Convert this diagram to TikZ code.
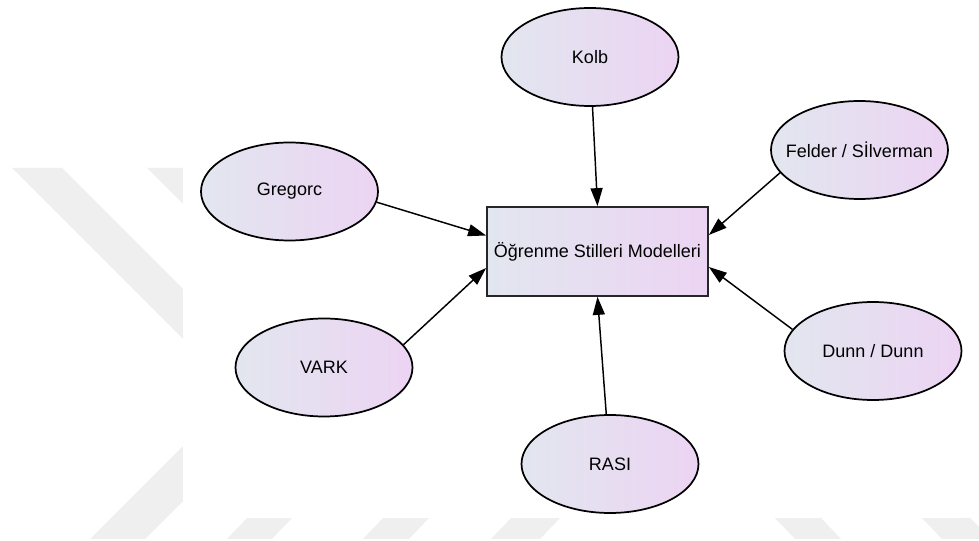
\documentclass[tikz,border=0pt]{standalone}
\usepackage{fontspec}
\setmainfont{Liberation Sans}
\usetikzlibrary{shapes.geometric,arrows.meta,calc}
\definecolor{gradL}{RGB}{226,230,239}
\definecolor{gradR}{RGB}{236,212,243}
\definecolor{wmark}{RGB}{239,239,239}
\newcommand{\ctext}[1]{\makebox[0pt]{#1}}
\tikzset{
  model/.style={ellipse,draw=black,line width=1.3pt,left color=gradL,right color=gradR,
    minimum width=132.75pt,minimum height=73.5pt,inner sep=0pt,
    font=\fontsize{13.5}{16}\selectfont},
  center/.style={rectangle,draw=black!85,line width=1.3pt,left color=gradL,right color=gradR,
    minimum width=165.75pt,minimum height=66.75pt,inner sep=0pt,
    font=\fontsize{13.5}{16}\selectfont},
  link/.style={draw=black,line width=1.1pt,-{Triangle[length=13.5pt,width=9pt]}},
  wm/.style={fill=wmark,draw=none}
}
\begin{document}
\begin{tikzpicture}[x=0.75pt,y=-0.75pt]
\useasboundingbox (0,0) rectangle (979,541);
\fill[white] (0,0) rectangle (979,541);
% watermark
\fill[wm] (12,168) -- (62,168) -- (362,468) -- (312,468) -- cycle;
\fill[wm] (147,168) -- (197,168) -- (297,268) -- (247,268) -- cycle;
\fill[wm] (90,539) -- (145,539) -- (300,384) -- (245,384) -- cycle;
\fill[wm] (227,539) -- (272,539) -- (292,518) -- (247,518) -- cycle;
\fill[wm] (363,539) -- (409,539) -- (429,518) -- (383,518) -- cycle;
\fill[wm] (491,539) -- (540,539) -- (560,518) -- (511,518) -- cycle;
\fill[wm] (775,518) -- (821,518) -- (841,539) -- (795,539) -- cycle;
\fill[wm] (922,518) -- (970,518) -- (979,527) -- (979,539) -- (942,539) -- cycle;
\fill[white] (183,0) rectangle (961,518);
% nodes
\node[center] (rect) at (597.5,251.5) {Öğrenme Stilleri Modelleri};
\node[model] (kolb) at (590,57) {\ctext{Kolb}};
\node[model] (felder) at (859.5,150) {\ctext{Felder / Sİlverman}};
\node[model] (greg) at (289.5,191.5) {\ctext{Gregorc}};
\node[model] (vark) at (324,367.5) {\ctext{VARK}};
\node[model] (dunn) at (873,351) {\ctext{Dunn / Dunn}};
\node[model] (rasi) at (610,464) {\ctext{RASI}};
% connectors
\coordinate (tkolb) at (rect.north);
\coordinate (tgreg) at ($(rect.west)+(0,-16)$);
\coordinate (tfelder) at ($(rect.east)+(0,-16.5)$);
\coordinate (tdunn) at ($(rect.east)+(0,15.5)$);
\coordinate (tvark) at ($(rect.west)+(0,16.5)$);
\coordinate (trasi) at (rect.south);
\draw[link] (kolb) -- (tkolb);
\draw[link] (greg.-7) -- (tgreg);
\draw[link] (felder.196) -- (tfelder);
\draw[link] (dunn.165) -- (tdunn);
\draw[link] (vark.16) -- (tvark);
\draw[link] (rasi) -- (trasi);
\end{tikzpicture}
\end{document}
